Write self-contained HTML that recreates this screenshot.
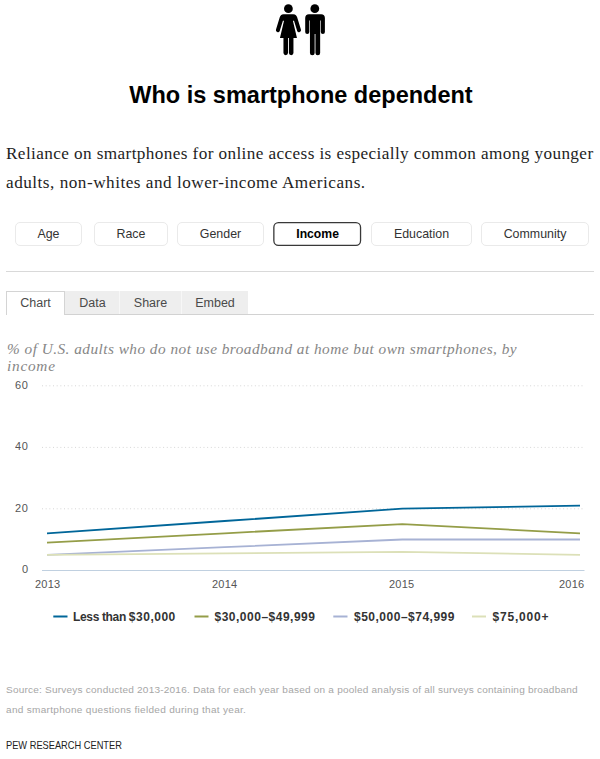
<!DOCTYPE html>
<html><head><meta charset="utf-8">
<style>
*{box-sizing:border-box;margin:0;padding:0}
html,body{width:600px;height:759px;background:#fff;overflow:hidden}
body{position:relative;font-family:"Liberation Sans",sans-serif;color:#000}
.abs{position:absolute;white-space:nowrap}
#title{left:1px;width:600px;top:80px;text-align:center;font-weight:bold;font-size:23.5px;line-height:30px;color:#000}
.lead{left:6px;font-family:"Liberation Serif",serif;font-size:17.2px;line-height:30px;color:#1e1e1e}
.btn{top:222px;height:24px;border:1px solid #eaeaea;border-radius:5px;font-size:12.4px;line-height:22px;text-align:center;color:#333;background:#fff}
.btn.sel{border:none;background:none;font-weight:bold;font-size:12.2px;color:#000;line-height:25px}
#hr1{left:6px;width:588px;top:271px;height:1px;background:#d9d9d9}
#tabline{left:6px;width:588px;top:314px;height:1px;background:#d2d2d2}
.tab{top:291px;height:23px;background:#eee;font-size:12.5px;line-height:25px;text-align:center;color:#4a4a4a}
.tab.act{background:#fff;border:1px solid #d4d4d4;border-bottom:none;height:24px;line-height:23px}
.sub{left:7px;font-family:"Liberation Serif",serif;font-style:italic;font-size:15.3px;line-height:17px;color:#868686}
.yl{left:15.3px;font-size:10px;letter-spacing:.6px;color:#555;line-height:12px;transform:scaleX(1.1);transform-origin:0 0}
.xl{font-size:10px;letter-spacing:.2px;color:#555;line-height:12px;top:578.8px;transform:scaleX(1.1);transform-origin:0 0}
.leg{font-size:12px;font-weight:bold;color:#333;line-height:14px;top:609.5px}
.leg i{font-style:normal;letter-spacing:.5px}
.src{left:5.7px;font-size:9.7px;color:#a6a6a6;line-height:12px;transform:scaleX(1.036);transform-origin:0 0}
#pew{left:5.7px;top:739.8px;font-size:10.3px;color:#222;line-height:12px;transform:scaleX(.9);transform-origin:0 0}
</style></head><body>
<svg class="abs" style="left:260px;top:0" width="80" height="60" viewBox="260 0 80 60">
<g fill="#000" stroke="none">
<!-- woman -->
<circle cx="288.4" cy="8.7" r="4.4"/>
<path d="M 283.65 14.20 L 293.25 14.20 C 295.65 14.20 296.65 15.60 297.15 17.30 L 300.90 29.60 A 1.95 1.95 0 0 1 297.20 30.90 L 294.00 20.70 L 292.90 20.70 L 296.95 37.90 L 293.45 37.90 L 293.45 53.10 A 2.28 2.28 0 0 1 288.90 53.10 L 288.90 37.90 L 288.00 37.90 L 288.00 53.10 A 2.28 2.28 0 0 1 283.45 53.10 L 283.45 37.90 L 279.95 37.90 L 284.00 20.70 L 282.90 20.70 L 279.70 30.90 A 1.95 1.95 0 0 1 276.00 29.60 L 279.75 17.30 C 280.25 15.60 281.25 14.20 283.65 14.20 Z"/>
<!-- man -->
<circle cx="314.8" cy="8.7" r="4.4"/>
<path d="M309 14.2 h12.1 a3.8 3.8 0 0 1 3.8 3.8 v13.9 a2.05 2.05 0 0 1 -4.1 0 v-11.3 h-0.65 v32.4 a2.35 2.35 0 0 1 -4.7 0 v-19 h-0.8 v19 a2.35 2.35 0 0 1 -4.7 0 v-32.4 h-0.65 v11.3 a2.05 2.05 0 0 1 -4.1 0 v-13.9 a3.8 3.8 0 0 1 3.8 -3.8 z"/>
</g>
</svg>
<div id="title" class="abs">Who is smartphone dependent</div>
<div class="abs lead" style="top:139px;letter-spacing:.395px">Reliance on smartphones for online access is especially common among younger</div>
<div class="abs lead" style="top:168px;letter-spacing:.5px">adults, non-whites and lower-income Americans.</div>

<div class="abs btn" style="left:15px;width:67px">Age</div>
<div class="abs btn" style="left:94px;width:74px">Race</div>
<div class="abs btn" style="left:177px;width:87px">Gender</div>
<svg class="abs" style="left:270px;top:219px" width="96" height="30" viewBox="270 219 96 30"><rect x="273.85" y="222.6" width="86.7" height="22.8" rx="4.6" fill="#fff" stroke="#383838" stroke-width="1.3"/></svg>
<div class="abs btn sel" style="left:273.6px;width:88px">Income</div>
<div class="abs btn" style="left:371px;width:101px">Education</div>
<div class="abs btn" style="left:481px;width:108px">Community</div>
<div id="hr1" class="abs"></div>

<div id="tabline" class="abs"></div>
<div class="abs" style="left:65px;top:291px;width:183px;height:23px;background:#f7f7f7"></div>
<div class="abs tab act" style="left:6px;width:59px">Chart</div>
<div class="abs tab" style="left:65px;width:54px;padding-left:1px">Data</div>
<div class="abs tab" style="left:120px;width:61px">Share</div>
<div class="abs tab" style="left:182px;width:66px">Embed</div>

<div class="abs sub" style="top:339.5px;letter-spacing:.47px">% of U.S. adults who do not use broadband at home but own smartphones, by</div>
<div class="abs sub" style="top:356.5px;letter-spacing:.75px">income</div>

<svg class="abs" style="left:0;top:370px" width="600" height="230" viewBox="0 370 600 230">
<g stroke="#d6d6d6" stroke-width="1" stroke-dasharray="1,2.67" fill="none">
<line x1="42" y1="385.8" x2="583" y2="385.8"/>
<line x1="42" y1="447.4" x2="583" y2="447.4"/>
<line x1="42" y1="508.8" x2="583" y2="508.8"/>
</g>
<line x1="42" y1="570.5" x2="584.5" y2="570.5" stroke="#c0d0e0" stroke-width="1"/>
<g fill="none" stroke-width="1.85" stroke-linejoin="round" stroke-linecap="butt">
<polyline stroke="#006699" points="47.0,533.3 224.6,521.0 402.3,508.7 580.0,505.6"/>
<polyline stroke="#949d48" points="47.0,542.6 224.6,533.3 402.3,524.1 580.0,533.3"/>
<polyline stroke="#a7b2d4" points="47.0,554.9 224.6,547.2 402.3,539.5 580.0,539.5"/>
<polyline stroke="#dce0b8" points="47.0,554.9 224.6,553.4 402.3,551.8 580.0,554.9"/>
</g>
</svg>
<div class="abs yl" style="top:380px">60</div>
<div class="abs yl" style="top:441px">40</div>
<div class="abs yl" style="top:502.5px">20</div>
<div class="abs yl" style="top:564px;left:22.2px">0</div>
<div class="abs xl" style="left:34.9px">2013</div>
<div class="abs xl" style="left:212px">2014</div>
<div class="abs xl" style="left:389.2px">2015</div>
<div class="abs xl" style="left:558.9px">2016</div>

<svg class="abs" style="left:0;top:610px" width="600" height="14" viewBox="0 610 600 14">
<g stroke-width="2" fill="none">
<line x1="53.3" y1="616.5" x2="67.5" y2="616.5" stroke="#006699"/>
<line x1="194.5" y1="616.5" x2="208.5" y2="616.5" stroke="#949d48"/>
<line x1="333.3" y1="616.5" x2="347.5" y2="616.5" stroke="#a7b2d4"/>
<line x1="472" y1="616.5" x2="486" y2="616.5" stroke="#dce0b8"/>
</g>
</svg>
<div class="abs leg" style="left:73px"><span style="letter-spacing:-.35px">Less than </span><i>$30,000</i></div>
<div class="abs leg" style="left:214.5px"><i>$30,000–$49,999</i></div>
<div class="abs leg" style="left:354px"><i>$50,000–$74,999</i></div>
<div class="abs leg" style="left:492.5px"><i style="letter-spacing:.8px">$75,000+</i></div>

<div class="abs src" style="top:684.35px;letter-spacing:.205px">Source: Surveys conducted 2013-2016. Data for each year based on a pooled analysis of all surveys containing broadband</div>
<div class="abs src" style="top:703.5px;letter-spacing:.285px">and smartphone questions fielded during that year.</div>
<div id="pew" class="abs">PEW RESEARCH CENTER</div>
</body></html>
